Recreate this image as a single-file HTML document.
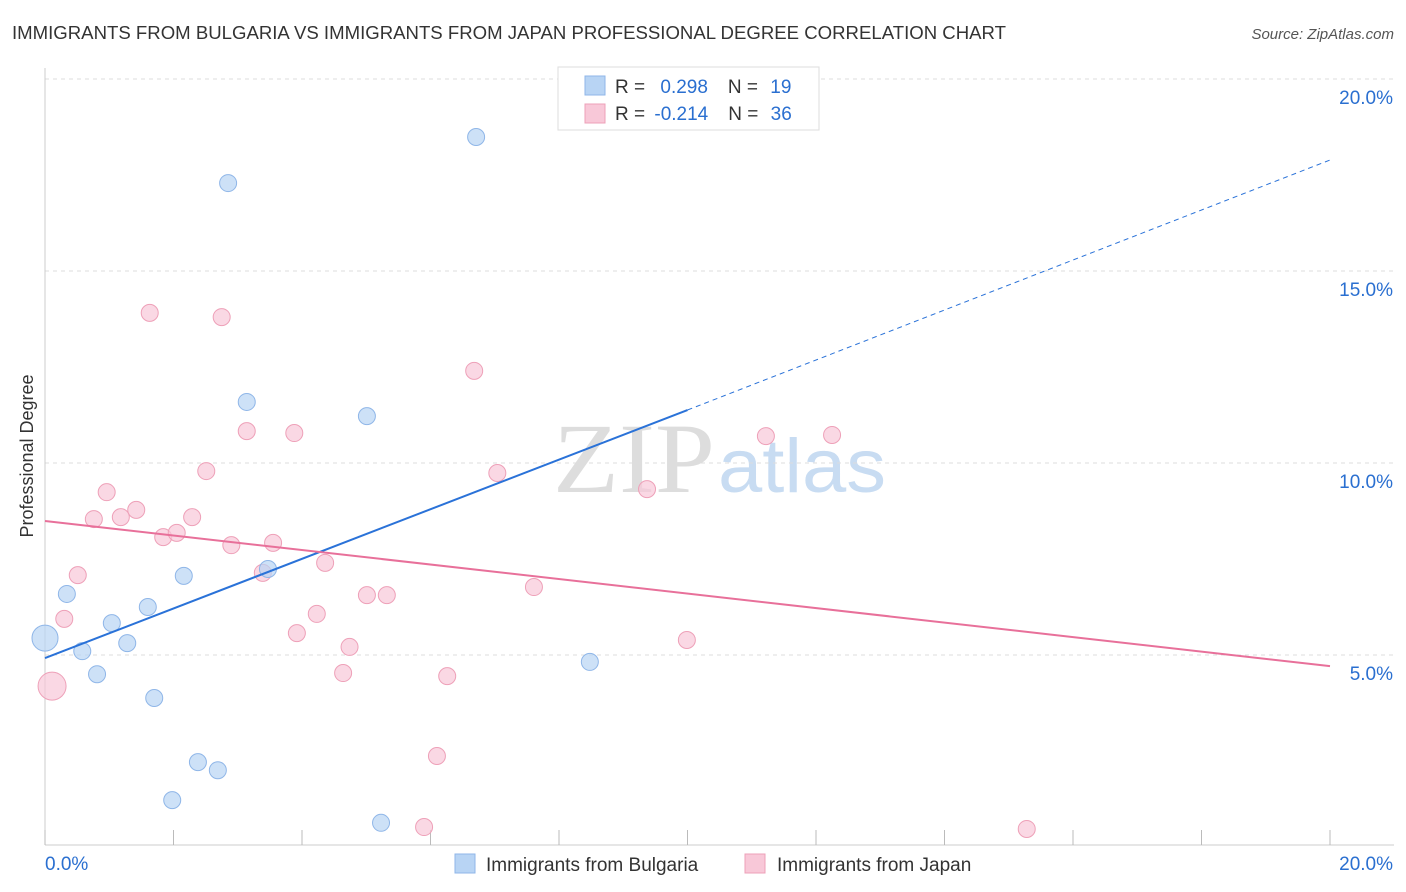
<!DOCTYPE html>
<html><head><meta charset="utf-8"><style>
body{margin:0;background:#fff;font-family:"Liberation Sans",sans-serif}
svg{display:block}
</style></head><body>
<svg id="chart" width="1406" height="892">
<text x="12" y="39" font-size="18" fill="#333" textLength="994" lengthAdjust="spacingAndGlyphs">IMMIGRANTS FROM BULGARIA VS IMMIGRANTS FROM JAPAN PROFESSIONAL DEGREE CORRELATION CHART</text>
<text x="1394" y="39" font-size="15" fill="#555" font-style="italic" text-anchor="end">Source: ZipAtlas.com</text>
<text x="553" y="492" font-size="100" fill="#ddd" font-family="Liberation Serif,serif" textLength="162" lengthAdjust="spacingAndGlyphs">ZIP</text>
<text x="718" y="492" font-size="76" fill="#c8dcf2" textLength="168" lengthAdjust="spacingAndGlyphs">atlas</text>
<text transform="translate(33,456) rotate(-90)" font-size="18" fill="#333" text-anchor="middle">Professional Degree</text>
<g id="grid"></g><g id="lines"></g><g id="pts"></g>
<g>
<rect x="558" y="67" width="261" height="63" fill="#fff" stroke="#ddd"/>
<rect x="585" y="76" width="20" height="19" fill="#b8d4f4" stroke="#8fb6e8"/>
<rect x="585" y="104" width="20" height="19" fill="#f8c8d8" stroke="#eea0b8"/>
<text x="615" y="93" font-size="19" fill="#333">R = <tspan fill="#2a6fd0" dx="10">0.298</tspan><tspan dx="20" fill="#333">N = </tspan><tspan fill="#2a6fd0" dx="7">19</tspan></text>
<text x="615" y="120" font-size="19" fill="#333">R = <tspan fill="#2a6fd0" dx="4">-0.214</tspan><tspan dx="20" fill="#333">N = </tspan><tspan fill="#2a6fd0" dx="7">36</tspan></text>
</g>
<g>
<rect x="455" y="854" width="20" height="19" fill="#b8d4f4" stroke="#8fb6e8"/>
<text x="486" y="871" font-size="19" fill="#333">Immigrants from Bulgaria</text>
<rect x="745" y="854" width="20" height="19" fill="#f8c8d8" stroke="#eea0b8"/>
<text x="777" y="871" font-size="19" fill="#333">Immigrants from Japan</text>
</g>
</svg>
<script>
const yTicks=[5,10,15,20];
const xTickLabels=["0.0%","20.0%"];
const bulgariaX=[0,0.34,0.58,0.81,1.04,1.28,1.60,1.70,1.98,2.16,2.38,2.69,2.85,3.14,3.47,5.01,5.23,6.71,8.48];
const bulgariaY=[5.44,6.59,5.10,4.5,5.83,5.31,6.25,3.88,1.22,7.06,2.21,2.0,17.29,11.59,7.24,11.22,0.63,18.49,4.82];
const japanX=[0.11,0.30,0.51,0.76,0.96,1.18,1.42,1.63,1.84,2.05,2.29,2.51,2.75,2.90,3.14,3.39,3.55,3.88,3.92,4.23,4.36,4.64,4.74,5.01,5.32,5.90,6.10,6.26,6.68,7.04,7.61,9.37,9.99,11.22,12.25,15.28];
const japanY=[4.19,5.94,7.08,8.54,9.24,8.59,8.78,13.91,8.07,8.18,8.59,9.79,13.80,7.86,10.83,7.14,7.92,10.78,5.57,6.07,7.40,4.53,5.21,6.56,6.56,0.52,2.37,4.45,12.40,9.74,6.77,9.32,5.39,10.70,10.73,0.47];
const blueTrend=[4.92,11.38,17.89];
const pinkTrend=[8.49,4.71];
const X=v=>45+v/20*1285, Y=v=>847-v*38.4;
const NS="http://www.w3.org/2000/svg";
function mk(t,a,p){const e=document.createElementNS(NS,t);for(const k in a)e.setAttribute(k,a[k]);p.appendChild(e);return e;}
const grid=document.getElementById('grid'),lines=document.getElementById('lines'),pts=document.getElementById('pts');
yTicks.forEach(t=>{
 const l=mk('line',{x1:45,x2:1394,y1:Y(t),y2:Y(t),stroke:'#ddd','stroke-dasharray':'4,4'},grid);
 
 
 const tx=mk('text',{x:1393,y:Y(t)+25,'font-size':19,fill:'#2a6fd0','text-anchor':'end'},grid);
 tx.textContent=t.toFixed(1)+'%';
 
 
});
const ax=mk('line',{x1:45,x2:45,y1:68,y2:845,stroke:'#ccc'},grid);


const bx=mk('line',{x1:45,x2:1394,y1:845,y2:845,stroke:'#ccc'},grid);


for(let i=0;i<=10;i++){const t=mk('line',{x1:X(i*2),x2:X(i*2),y1:830,y2:845,stroke:'#bbb'},grid);
 
 }
const xl0=mk('text',{x:45,y:870,'font-size':19,fill:'#2a6fd0'},grid);xl0.textContent=xTickLabels[0];


const xl1=mk('text',{x:1393,y:870,'font-size':19,fill:'#2a6fd0','text-anchor':'end'},grid);xl1.textContent=xTickLabels[1];


japanX.forEach((x,i)=>{const r=i==0?14:8.5;const c=mk('circle',{cx:X(x),cy:Y(japanY[i]),r:r,fill:'#f8c8d8','fill-opacity':0.7,stroke:'#eea0b8'},pts);
 
 });
bulgariaX.forEach((x,i)=>{const r=i==0?13:8.5;const c=mk('circle',{cx:X(x),cy:Y(bulgariaY[i]),r:r,fill:'#b8d4f4','fill-opacity':0.7,stroke:'#8fb6e8'},pts);
 
 });
const b1=mk('line',{x1:X(0),y1:Y(blueTrend[0]),x2:X(10),y2:Y(blueTrend[1]),stroke:'#2a72d8','stroke-width':2},pts);


const b2=mk('line',{x1:X(10),y1:Y(blueTrend[1]),x2:X(20),y2:Y(blueTrend[2]),stroke:'#2a72d8','stroke-width':1,'stroke-dasharray':'5,4'},pts);


const p1=mk('line',{x1:X(0),y1:Y(pinkTrend[0]),x2:X(20),y2:Y(pinkTrend[1]),stroke:'#e8709a','stroke-width':2},pts);


</script>
</body></html>
